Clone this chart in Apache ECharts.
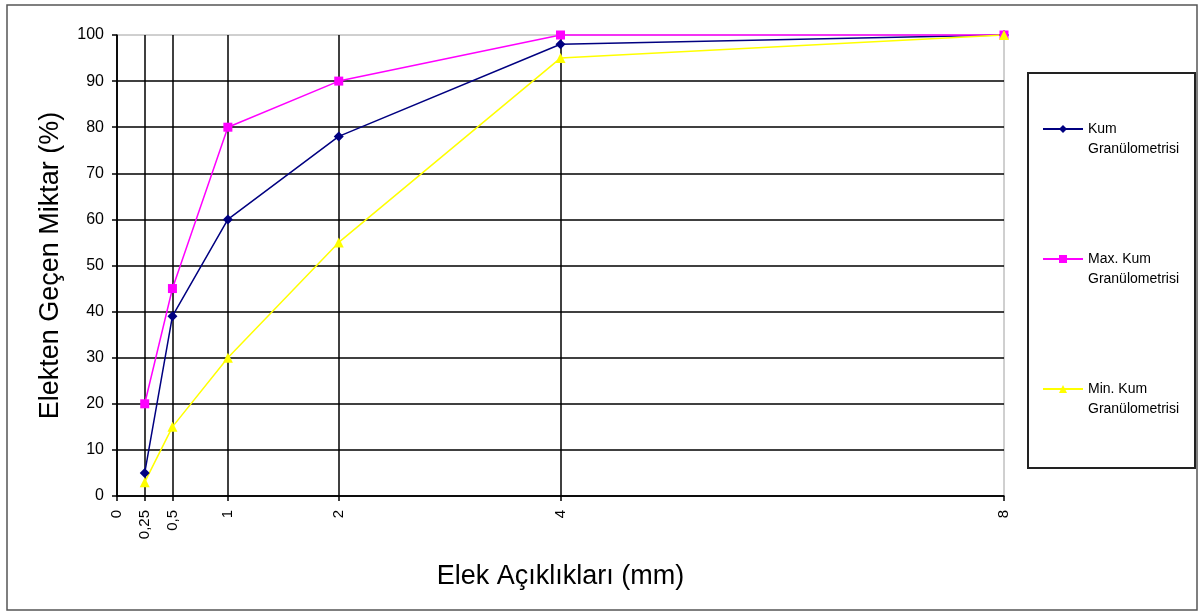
<!DOCTYPE html>
<html>
<head>
<meta charset="utf-8">
<title>Elek Analizi</title>
<script src="https://cdn.jsdelivr.net/npm/echarts@6/dist/echarts.min.js"></script>
<style>
  html, body { margin: 0; padding: 0; background: #fff; }
  #chart { width: 1200px; height: 612px; }
</style>
</head>
<body>
<div id="chart"></div>
<script>
// Sieve openings (mm) and the passing percentages for each grading curve
const sieveSizes = [0.25, 0.5, 1, 2, 4, 8];
const kumValues = [5, 39, 60, 78, 98, 100];
const maxValues = [20, 45, 80, 90, 100, 100];
const minValues = [3, 15, 30, 55, 95, 100];

// Axis tick positions
const xTicks = [0, 0.25, 0.5, 1, 2, 4, 8];
const yTicks = [0, 10, 20, 30, 40, 50, 60, 70, 80, 90, 100];

const seriesNames = [
  'Kum\nGranülometrisi',
  'Max. Kum\nGranülometrisi',
  'Min. Kum\nGranülometrisi'
];

const pairs = vals => sieveSizes.map((s, i) => [s, vals[i]]);

const chart = echarts.init(document.getElementById('chart'), null, { renderer: 'canvas' });

const FONT = 'Liberation Sans, Arial, sans-serif';

chart.setOption({
  backgroundColor: '#ffffff',
  animation: false,
  textStyle: { fontFamily: FONT },
  grid: {
    left: 117, right: 196, top: 35, bottom: 116,
    show: true, borderColor: '#a0a0a0', borderWidth: 1, backgroundColor: 'transparent'
  },
  graphic: [
    {
      type: 'rect', silent: true, z: -1,
      shape: { x: 7, y: 5, width: 1190, height: 605 },
      style: { fill: 'none', stroke: '#555', lineWidth: 1.5 }
    },
    {
      type: 'rect', silent: true,
      shape: { x: 1028, y: 73, width: 167, height: 395 },
      style: { fill: 'none', stroke: '#222', lineWidth: 2 }
    }
  ],
  legend: {
    orient: 'vertical',
    left: 1037,
    top: 94,
    itemGap: 70,
    itemWidth: 40,
    itemHeight: 10,
    data: seriesNames,
    // an empty leading line keeps the icon level with the first text line
    formatter: name => '\n' + name,
    textStyle: {
      fontFamily: FONT, fontSize: 14, color: '#000', lineHeight: 20
    }
  },
  xAxis: {
    type: 'value',
    min: 0, max: 8,
    name: 'Elek Açıklıkları (mm)',
    nameLocation: 'middle',
    nameGap: 67,
    nameTextStyle: { fontFamily: FONT, fontSize: 27, color: '#000' },
    axisLine: { show: true, onZero: false, lineStyle: { color: '#000', width: 1.5 } },
    axisTick: { show: true, length: 5, customValues: xTicks, lineStyle: { color: '#000', width: 1.5 } },
    axisLabel: {
      customValues: xTicks, rotate: 90, margin: 14,
      fontFamily: FONT, fontSize: 15, color: '#000',
      formatter: v => String(v).replace('.', ',')
    },
    splitLine: { show: true, showMaxLine: false, lineStyle: { color: '#000', width: 1.5 } }
  },
  yAxis: {
    type: 'value',
    min: 0, max: 100, interval: 10,
    name: 'Elekten Geçen Miktar (%)',
    nameLocation: 'middle',
    nameGap: 53,
    nameRotate: 90,
    nameTextStyle: { fontFamily: FONT, fontSize: 27, color: '#000' },
    axisLine: { show: true, lineStyle: { color: '#000', width: 1.5 } },
    axisTick: { show: true, length: 5, customValues: yTicks, lineStyle: { color: '#000', width: 1.5 } },
    axisLabel: { customValues: yTicks, margin: 13, fontFamily: FONT, fontSize: 16, color: '#000' },
    splitLine: { show: true, showMaxLine: false, lineStyle: { color: '#000', width: 1.5 } }
  },
  series: [
    {
      name: seriesNames[0], type: 'line', data: pairs(kumValues),
      symbol: 'diamond', symbolSize: 10, clip: false,
      itemStyle: { color: '#000080' },
      lineStyle: { color: '#000080', width: 1.5 }
    },
    {
      name: seriesNames[1], type: 'line', data: pairs(maxValues),
      symbol: 'rect', symbolSize: 9, clip: false,
      itemStyle: { color: '#ff00ff' },
      lineStyle: { color: '#ff00ff', width: 1.5 }
    },
    {
      name: seriesNames[2], type: 'line', data: pairs(minValues),
      symbol: 'triangle', symbolSize: 10, clip: false,
      itemStyle: { color: '#ffff00' },
      lineStyle: { color: '#ffff00', width: 1.5 }
    }
  ]
});
</script>
</body>
</html>
